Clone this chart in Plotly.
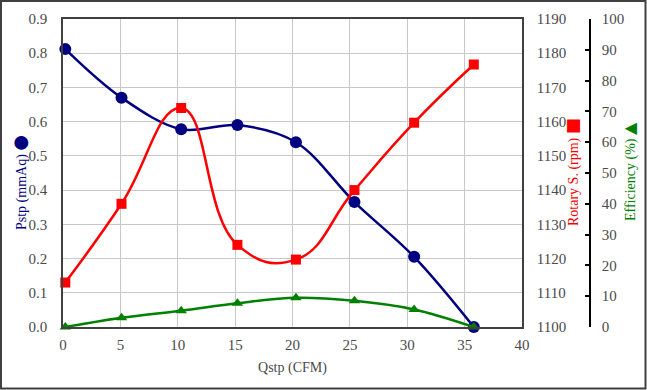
import plotly.graph_objects as go

qstp = [0.2, 5.1, 10.3, 15.2, 20.3, 25.4, 30.6, 35.8]
pstp = [0.812, 0.670, 0.578, 0.590, 0.540, 0.365, 0.205, 0.0]
rotary = [1113.0, 1136.0, 1164.0, 1124.0, 1119.7, 1140.0, 1159.7, 1176.7]
efficiency = [0.0, 3.0, 5.3, 7.7, 9.5, 8.5, 5.7, 0.0]

xticks = [0, 5, 10, 15, 20, 25, 30, 35, 40]

W, H = 647, 390
ML, MR, MT, MB = 63, 47, 19, 63
PW = W - ML - MR
PH = H - MT - MB
plot_right = 522
y3_x = 590

font_family = "Times New Roman, Liberation Serif, serif"
tick_col = "#4a4a4a"
tf = dict(family=font_family, size=15, color=tick_col)

fig = go.Figure()
fig.add_trace(go.Scatter(x=qstp, y=pstp, mode="lines+markers",
                         line=dict(color="#000080", width=2.5, shape="spline", smoothing=1.0),
                         marker=dict(symbol="circle", size=12, color="#000080"),
                         yaxis="y", cliponaxis=False))
fig.add_trace(go.Scatter(x=qstp, y=rotary, mode="lines+markers",
                         line=dict(color="#ff0000", width=2.5, shape="spline", smoothing=1.3),
                         marker=dict(symbol="square", size=10, color="#ff0000"),
                         yaxis="y2", cliponaxis=False))
fig.add_trace(go.Scatter(x=qstp, y=efficiency, mode="lines+markers",
                         line=dict(color="#008000", width=2.5, shape="spline", smoothing=1.0),
                         marker=dict(symbol="triangle-up", size=10, color="#008000"),
                         yaxis="y3", cliponaxis=False))

dom_end = (plot_right - ML) / PW
y3_pos = (y3_x - ML) / PW

fig.update_layout(
    template="none",
    width=W, height=H,
    margin=dict(l=ML, r=MR, t=MT, b=MB, autoexpand=False),
    paper_bgcolor="white", plot_bgcolor="white",
    showlegend=False,
    font=dict(family=font_family, size=15, color=tick_col),
    xaxis=dict(domain=[0, dom_end], range=[0, 40], tickvals=xticks, tickfont=tf,
               showgrid=True, gridcolor="#c8c8c8", gridwidth=1,
               showline=True, linecolor="#404040", linewidth=1.5, mirror=True,
               zeroline=False, ticks="", ticklabelstandoff=3,
               title=dict(text="Qstp (CFM)", font=dict(family=font_family, size=14, color=tick_col), standoff=10)),
    yaxis=dict(range=[0, 0.9], tickvals=[i / 10 for i in range(10)], tickformat=".1f", tickfont=tf,
               showgrid=True, gridcolor="#c8c8c8", gridwidth=1,
               showline=True, linecolor="#404040", linewidth=1.5,
               zeroline=False, ticks="", ticklabelstandoff=11),
    yaxis2=dict(range=[1100, 1190], tickvals=list(range(1100, 1191, 10)), tickfont=tf,
                overlaying="y", side="right", anchor="x",
                showgrid=False, showline=True, linecolor="#404040", linewidth=1.5,
                zeroline=False, ticks="", ticklabelstandoff=10),
    yaxis3=dict(range=[0, 100], tickvals=list(range(0, 101, 10)), tickfont=tf,
                overlaying="y", side="right", anchor="free", position=y3_pos,
                showgrid=False, showline=True, linecolor="#000000", linewidth=1.5,
                zeroline=False, ticks="inside", ticklen=4, tickcolor="#000000", tickwidth=1.5,
                ticklabelstandoff=8),
)

def px_x(x):
    return (x - ML) / PW

def px_y(y):
    return (H - MB - y) / PH

fig.add_annotation(x=px_x(19), y=px_y(183), xref="paper", yref="paper",
                   xanchor="center", yanchor="middle",
                   text="Pstp (mmAq) <span style='font-family:DejaVu Sans;font-size:18px'>●</span>",
                   textangle=-90, showarrow=False,
                   font=dict(size=14, color="#000080", family=font_family))
fig.add_annotation(x=px_x(572), y=px_y(172), xref="paper", yref="paper",
                   xanchor="center", yanchor="middle",
                   text="Rotary S. (rpm) <span style='font-family:DejaVu Sans;font-size:17px'>■</span>",
                   textangle=-90, showarrow=False,
                   font=dict(size=14, color="#ff0000", family=font_family))
fig.add_annotation(x=px_x(629), y=px_y(172), xref="paper", yref="paper",
                   xanchor="center", yanchor="middle",
                   text="Efficiency (%) <span style='font-family:DejaVu Sans;font-size:16px'>▲</span>",
                   textangle=-90, showarrow=False,
                   font=dict(size=14, color="#008000", family=font_family))

fig.add_shape(type="rect", xref="paper", yref="paper",
              x0=px_x(1), x1=px_x(645.5), y0=px_y(388.5), y1=px_y(1),
              line=dict(color="#404040", width=2), fillcolor="rgba(0,0,0,0)", layer="above")

fig.write_html("out.html", config={"displayModeBar": False},
               post_script="document.body.style.margin='0';document.body.style.overflow='hidden';")
